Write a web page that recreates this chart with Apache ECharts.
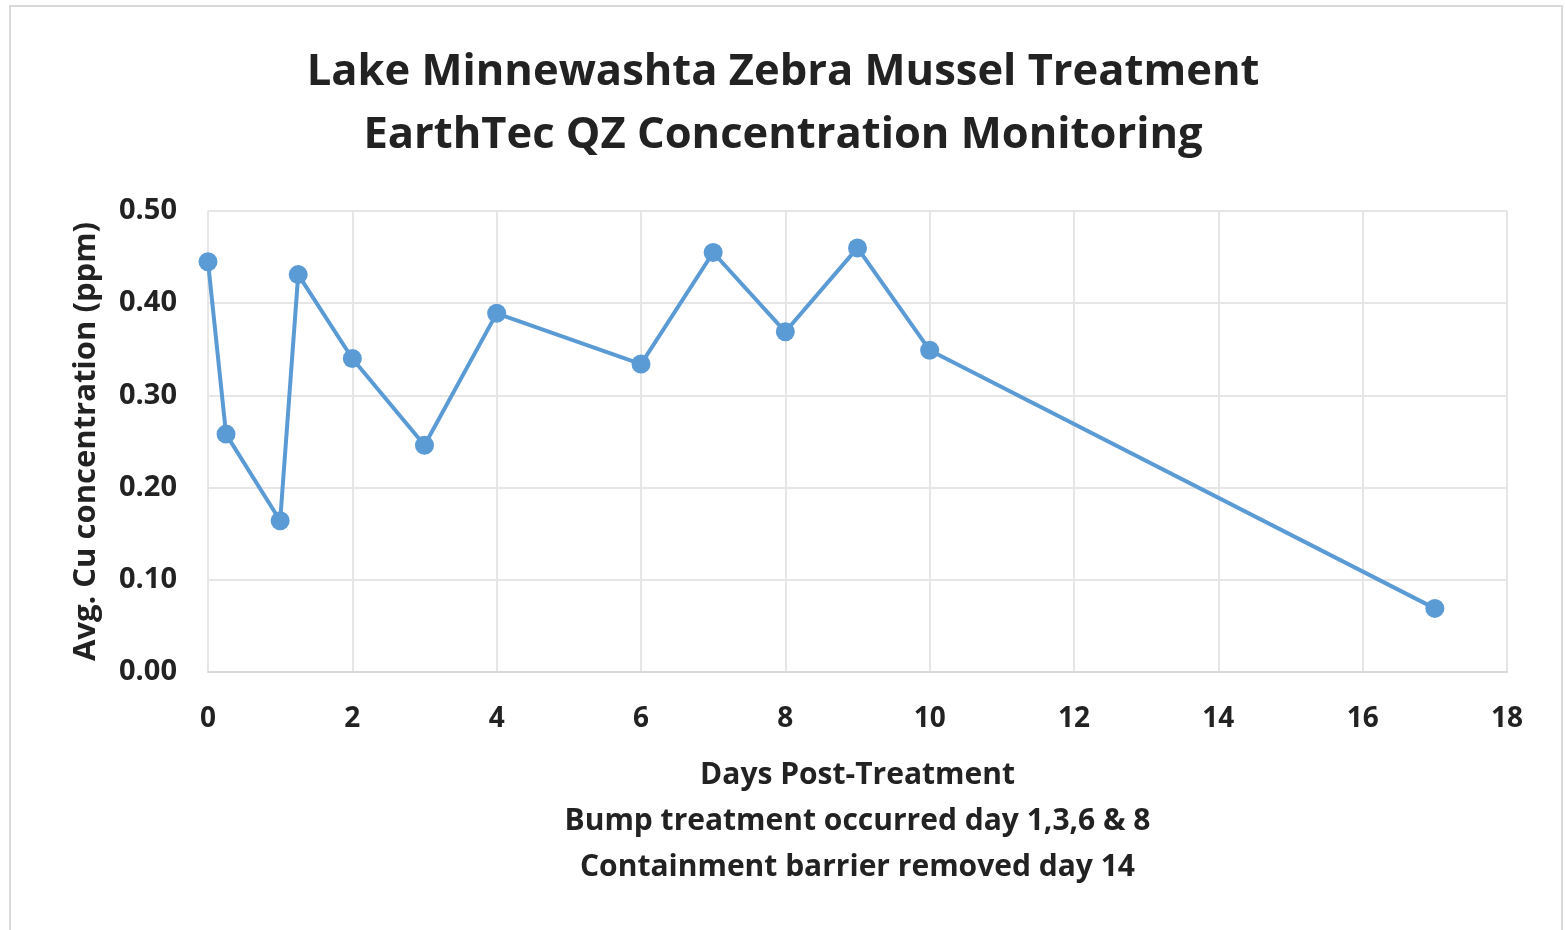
<!DOCTYPE html>
<html>
<head>
<meta charset="utf-8">
<script src="https://cdn.jsdelivr.net/npm/echarts@6/dist/echarts.min.js"></script>
<style>
  html, body { margin: 0; padding: 0; background: #fff; }
  #chart { width: 1566px; height: 930px; }
</style>
</head>
<body>
<div id="chart"></div>
<script>
// days after treatment and the measured copper concentration
const days = [0, 0.25, 1, 1.25, 2, 3, 4, 6, 7, 8, 9, 10, 17]
const copper = [0.445, 0.258, 0.164, 0.431, 0.340, 0.246, 0.389, 0.334, 0.455, 0.369, 0.460, 0.349, 0.069]

const titleLines = ['Lake Minnewashta Zebra Mussel Treatment', 'EarthTec QZ Concentration Monitoring']
const xName = ['Days Post-Treatment', 'Bump treatment occurred day 1,3,6 & 8', 'Containment barrier removed day 14']
const yName = 'Avg. Cu concentration (ppm)'

const font = 'Open Sans'
const ink = '#222'
const blue = '#5b9bd5'

const chart = echarts.init(document.getElementById('chart'))

chart.setOption({
  animation: false,
  backgroundColor: '#fff',
  title: {
    text: titleLines.join('\n'),
    left: 'center',
    top: 36,
    textStyle: {
      fontFamily: font,
      fontWeight: 'bold',
      fontSize: 43.5,
      lineHeight: 63,
      color: ink,
    },
  },
  graphic: [
    {
      type: 'rect',
      shape: { x: 10, y: 6, width: 1552, height: 940 },
      style: { fill: 'none', stroke: '#d9d9d9', lineWidth: 2 },
      silent: true,
    },
  ],
  grid: { left: 208, right: 59, top: 211, bottom: 258 },
  xAxis: {
    type: 'value',
    min: 0,
    max: 18,
    interval: 2,
    name: xName.join('\n'),
    nameLocation: 'middle',
    nameGap: 80,
    nameTextStyle: {
      fontFamily: font,
      fontWeight: 'bold',
      fontSize: 30,
      lineHeight: 46,
      color: ink,
      verticalAlign: 'top',
    },
    axisLine: { show: true, lineStyle: { color: '#d9d9d9', width: 2 } },
    axisTick: { show: false },
    splitLine: { show: true, lineStyle: { color: '#e6e6e6', width: 2 } },
    axisLabel: {
      fontFamily: font,
      fontWeight: 'bold',
      fontSize: 28,
      color: ink,
      margin: 33,
    },
  },
  yAxis: {
    type: 'value',
    min: 0,
    max: 0.5,
    interval: 0.1,
    name: yName,
    nameLocation: 'middle',
    nameGap: 106,
    nameTextStyle: {
      fontFamily: font,
      fontWeight: 'bold',
      fontSize: 31,
      color: ink,
    },
    axisLine: { show: false },
    axisTick: { show: false },
    splitLine: { show: true, lineStyle: { color: '#e6e6e6', width: 2 } },
    axisLabel: {
      fontFamily: font,
      fontWeight: 'bold',
      fontSize: 29,
      color: ink,
      margin: 31,
      formatter: v => v.toFixed(2),
    },
  },
  series: [
    {
      type: 'line',
      data: days.map((d, i) => [d, copper[i]]),
      symbol: 'circle',
      symbolSize: 19,
      lineStyle: { color: blue, width: 4 },
      itemStyle: { color: blue },
    },
  ],
})
</script>
</body>
</html>
